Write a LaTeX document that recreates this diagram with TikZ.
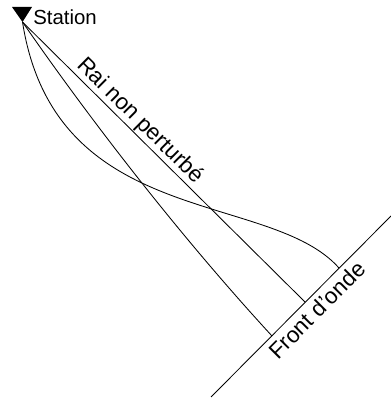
\documentclass[tikz,border=0pt]{standalone}
\usepackage{fontspec}
\setmainfont{Liberation Sans}

\begin{document}
\begin{tikzpicture}[x=0.025cm,y=-0.025cm,
    ray/.style={line width=0.6pt},
    every node/.style={font=\fontsize{14.5}{17}\selectfont},
    tag/.style={font=\fontsize{16}{19}\selectfont}]
      % \draw[help lines](0,0) grid (390,398);
      \useasboundingbox (0,0) rectangle (390,398);

      \coordinate (stn) at (22.5,22);
      \fill (stn) -- ++(-10.5,-15) -- ++(20,0) -- cycle;
      \draw (33,25) node [anchor=base west,inner sep=0] (stname) {Station};

      \coordinate (wf1) at (211,397);
      \coordinate (wf2) at (391,216);
      \coordinate (hitA) at (339,268);
      \coordinate (hitB) at (272,336);
      \coordinate (hitR) at (305,302);

      \draw [ray] (wf1) -- (wf2) node [tag,pos=0.535,below,sloped,inner sep=3.5pt] (front) {Front d'onde};
      \draw [ray] (stn) -- (hitR) node [tag,pos=0.385,above,sloped,inner sep=1pt] (rai) {Rai non perturbé};
      \draw [ray] (stn) .. controls (91,121) and (180,236) .. (hitB);
      \draw [ray] (stn) .. controls (55,230) and (270,190) .. (hitA);
\end{tikzpicture}
\end{document}
